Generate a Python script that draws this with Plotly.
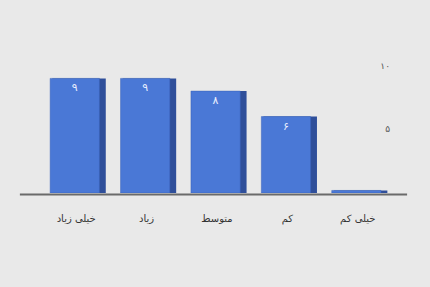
import plotly.graph_objects as go

categories = ["خیلی زیاد", "زیاد", "متوسط", "کم", "خیلی کم"]
values = [9, 9, 8, 6, 0.2]
value_labels = ["۹", "۹", "۸", "۶", ""]
tick_vals = [5, 10]
tick_text = ["۵", "۱۰"]

fig = go.Figure()
# darker side face (pseudo-3D)
fig.add_trace(go.Bar(
    x=categories, y=values, width=0.76, offset=-0.34,
    marker=dict(color="#2f4f9a", line=dict(width=0)),
    hoverinfo="skip", showlegend=False,
))
# front face
fig.add_trace(go.Bar(
    x=categories, y=values, width=0.70, offset=-0.37,
    marker=dict(color="#4a78d6", line=dict(color="#3a62b8", width=0.5)),
    text=value_labels, textposition="inside", insidetextanchor="end",
    textfont=dict(family="DejaVu Sans", size=11, color="#e8eeff"),
    showlegend=False,
))

fig.update_layout(
    width=430, height=287,
    barmode="overlay",
    paper_bgcolor="#e9e9e9",
    plot_bgcolor="#e9e9e9",
    margin=dict(l=41, r=37, t=58, b=94, autoexpand=False),
    font=dict(family="DejaVu Sans", size=10, color="#333333"),
    xaxis=dict(
        range=[-0.5, 4.5],
        showgrid=False, zeroline=False, showline=False, automargin=False,
        tickfont=dict(family="DejaVu Sans", size=10, color="#333333"),
        ticks="", ticklabelstandoff=18,
    ),
    yaxis=dict(
        range=[0, 10.6], side="right", showgrid=False, zeroline=False,
        showline=False, tickvals=tick_vals, ticktext=tick_text, automargin=False,
        ticklabelposition="inside",
        tickfont=dict(family="DejaVu Sans", size=9, color="#555555"),
    ),
    shapes=[
        dict(type="line", xref="paper", yref="paper", x0=-0.06, x1=1.04, y0=-0.012, y1=-0.012,
             line=dict(color="#6a6a6a", width=2)),
    ],
)

fig.write_html("out.html", config={"displayModeBar": False},
               post_script="document.body.style.margin='0';")
